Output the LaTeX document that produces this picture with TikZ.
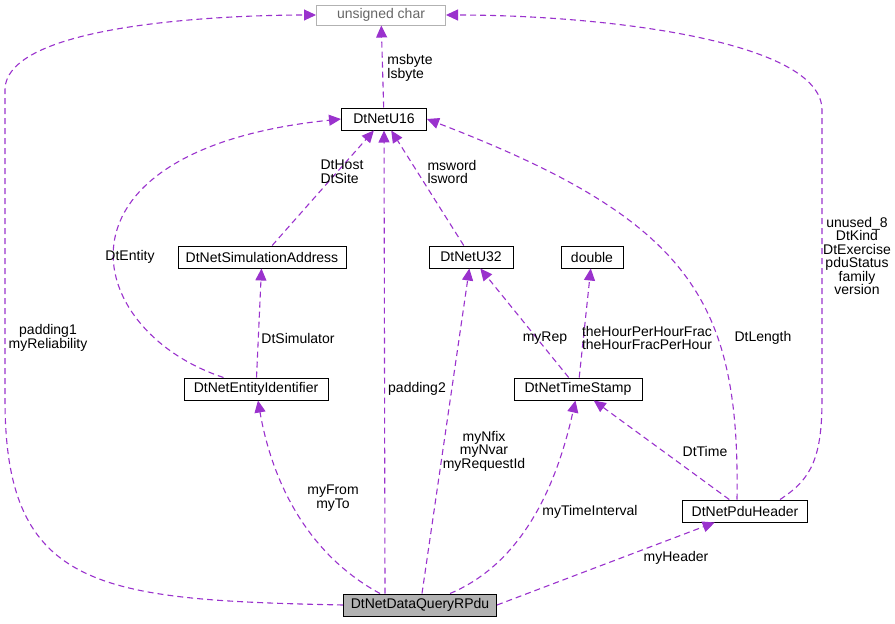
\documentclass[tikz,border=0pt]{standalone}
\usepackage{fontspec}
\setmainfont{Liberation Sans}
\usetikzlibrary{arrows.meta}
\definecolor{ep}{HTML}{9A32CD}
\tikzset{
 box/.style={draw=black,line width=1pt,fill=white,inner sep=0pt,minimum height=22pt,font=\fontsize{14}{16}\selectfont},
 edge/.style={draw=ep,line width=1.1pt,dash pattern=on 6pt off 4pt,-{Triangle[length=12pt,width=11pt,fill=ep]}},
 lbl/.style={font=\fontsize{14}{13.5}\selectfont,align=center,inner sep=0pt}
}
\begin{document}
\begin{tikzpicture}[x=1pt,y=-1pt]
\useasboundingbox (0,0) rectangle (895,624);
\node[box,draw=gray!60,text=gray!80!black,minimum width=129pt,minimum height=20pt] (uc) at (381,15) {unsigned char};
\node[box,minimum width=85pt] (u16) at (384,119) {DtNetU16};
\node[box,minimum width=168pt] (sa) at (262,257) {DtNetSimulationAddress};
\node[box,minimum width=84pt] (u32) at (471,257) {DtNetU32};
\node[box,minimum width=62pt] (dbl) at (592,257) {double};
\node[box,minimum width=144pt] (ei) at (256,389) {DtNetEntityIdentifier};
\node[box,minimum width=128pt] (ts) at (578,389) {DtNetTimeStamp};
\node[box,minimum width=125pt] (ph) at (745,511) {DtNetPduHeader};
\node[box,fill=gray!60,minimum width=153pt] (dq) at (420,605) {DtNetDataQueryRPdu};

\draw[edge] (u16) -- (uc);
\node[lbl,align=left] at (410,68) {msbyte\\lsbyte};
\draw[edge] (sa) -- (u16);
\node[lbl,align=left] at (342,172) {DtHost\\DtSite};
\draw[edge] (u32) -- (u16);
\node[lbl,align=left] at (452,172) {msword\\lsword};
\draw[edge] (ei.north west) ++(40,0) coordinate (eis) (eis) .. controls (80,330) and (40,150) .. (u16.west);
\node[lbl] at (130,257) {DtEntity};
\draw[edge] (ei) -- (sa);
\node[lbl] at (298,338) {DtSimulator};
\draw[edge] (ts) -- (u32);
\node[lbl] at (545,338) {myRep};
\draw[edge] (ts) -- (dbl);
\node[lbl,align=left] at (647,338) {theHourPerHourFrac\\theHourFracPerHour};
\draw[edge] (ph.north) ++(-8,0) coordinate (phl) (phl) .. controls (740,300) and (690,220) .. (u16.east);
\node[lbl] at (763,338) {DtLength};
\draw[edge] (ph.north) ++(35,0) coordinate (phr) (phr) .. controls (810,480) and (822,460) .. (822,400) -- (822,110) .. controls (822,40) and (600,15) .. (uc.east);
\node[lbl] at (857,256) {unused\_8\\DtKind\\DtExercise\\pduStatus\\family\\version};
\draw[edge] (ph) -- (ts);
\node[lbl] at (705,451) {DtTime};
\draw[edge] (dq.west) .. controls (100,600) and (5,590) .. (5,400) -- (5,90) .. controls (5,20) and (250,15) .. (uc.west);
\node[lbl] at (48,338) {padding1\\myReliability};
\draw[edge] (dq.north) ++(-35,0) coordinate (d1) (d1) -- (u16);
\node[lbl] at (417,389) {padding2};
\draw[edge] (dq.north) ++(2,0) coordinate (d2) (d2) -- (u32);
\node[lbl] at (484,451) {myNfix\\myNvar\\myRequestId};
\draw[edge] (dq.north) ++(-40,0) coordinate (d3) (d3) .. controls (300,550) and (270,470) .. (ei);
\node[lbl] at (333,498) {myFrom\\myTo};
\draw[edge] (dq.north) ++(30,0) coordinate (d4) (d4) .. controls (530,560) and (560,470) .. (ts);
\node[lbl] at (590,512) {myTimeInterval};
\draw[edge] (dq.east) -- (ph);
\node[lbl] at (676,558) {myHeader};
\end{tikzpicture}
\end{document}
